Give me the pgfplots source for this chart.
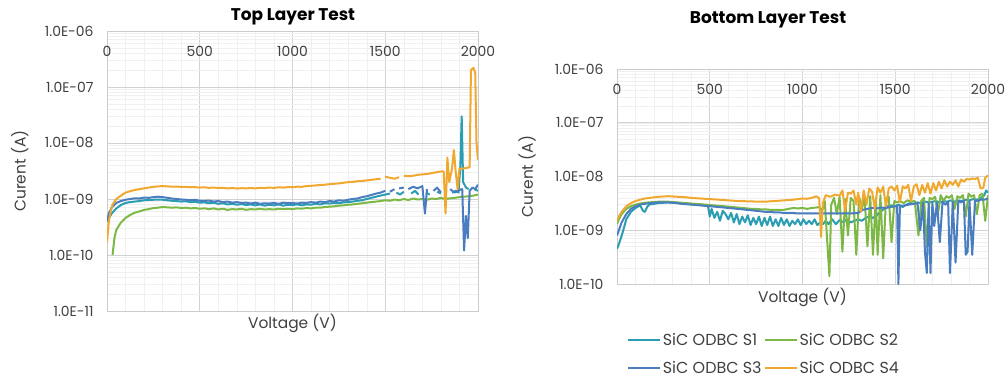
\documentclass[border=0pt]{standalone}
\usepackage{fontspec}
\setmainfont{Poppins}
\usepackage{pgfplots}
\pgfplotsset{compat=1.18}
\definecolor{cS1}{HTML}{2A9DB3}
\definecolor{cS2}{HTML}{7CB845}
\definecolor{cS3}{HTML}{4A7DC0}
\definecolor{cS4}{HTML}{F0A82E}
\pgfplotsset{
  ivstyle/.style={
    scale only axis, xmin=0, xmax=2000,
    xtick={0,500,1000,1500,2000}, xticklabels={0,500,1000,1500,2000},
    minor x tick num=4,
    xticklabel pos=upper,
    xticklabel style={anchor=north, yshift=-11.5bp},
    yticklabel style={xshift=-10bp},
    grid=both, major grid style={gray!35, line width=0.6bp}, minor grid style={gray!12, line width=0.4bp},
    axis line style={gray!40, line width=0.6bp},
    major tick length=0pt, minor tick length=0pt,
    tick label style={font=\fontsize{14}{16}\selectfont, text=black!75},
    label style={font=\fontsize{15.5}{17}\selectfont, text=black!75},
    unbounded coords=jump,
    every axis plot/.append style={line width=2bp, line join=round},
    xlabel={Voltage (V)}, ylabel={Curent (A)},
  }
}
\begin{document}
\begin{tikzpicture}
\path[use as bounding box] (0bp,0bp) rectangle (1008bp,380bp);
\node[font=\fontsize{17}{19}\selectfont\bfseries] at (293bp,363bp) {Top Layer Test};
\node[font=\fontsize{17}{19}\selectfont\bfseries] at (768bp,360bp) {Bottom Layer Test};
\begin{axis}[ymode=log, ivstyle, at={(107bp,69bp)}, anchor=south west, width=371bp, height=280bp,
  ymin=1e-11, ymax=1e-6,
  ytick={1e-11,1e-10,1e-9,1e-8,1e-7,1e-6},
  yticklabels={1.0E-11,1.0E-10,1.0E-09,1.0E-08,1.0E-07,1.0E-06},
  xlabel style={at={(0.5,-0.043)}, anchor=center},
  ylabel style={at={(-0.235,0.5)}, anchor=center},
]
% S1
\addplot[cS1] table[row sep=\\, header=false, x index=0, y expr=\thisrowno{1}*1e-9] {
0 0.4\\ 10 0.45\\ 25 0.55\\ 50 0.68\\ 75 0.78\\ 100 0.85\\ 125 0.88\\ 150 0.9\\ 175 0.92\\ 200 0.95\\ 225 0.96\\ 250 0.97\\ 275 0.98\\ 300 0.97\\ 325 0.95\\ 350 0.93\\ 375 0.92\\ 400 0.9\\ 425 0.91\\ 450 0.88\\ 475 0.89\\ 500 0.86\\ 525 0.87\\ 550 0.84\\ 575 0.86\\ 600 0.82\\ 625 0.84\\ 650 0.8\\ 675 0.82\\ 700 0.79\\ 725 0.81\\ 750 0.78\\ 775 0.8\\ 800 0.77\\ 825 0.8\\ 850 0.76\\ 875 0.79\\ 900 0.77\\ 925 0.8\\ 950 0.76\\ 975 0.79\\ 1000 0.78\\ 1025 0.8\\ 1050 0.77\\ 1075 0.8\\ 1100 0.79\\ 1125 0.82\\ 1150 0.8\\ 1175 0.84\\ 1200 0.83\\ 1225 0.85\\ 1250 0.84\\ 1275 0.87\\ 1300 0.88\\ 1325 0.9\\ 1350 0.93\\ 1375 0.95\\ 1400 1.0\\ 1425 1.05\\ 1450 1.1\\ 1475 1.15\\ 1500 1.2\\ 1525 1.25\\ 1540 nan\\ 1560 1.3\\ 1580 1.2\\ 1600 1.35\\ 1620 nan\\ 1640 1.25\\ 1660 1.4\\ 1680 1.2\\ 1700 nan\\ 1720 1.3\\ 1740 1.2\\ 1760 nan\\ 1780 1.35\\ 1800 1.25\\ 1820 nan\\ 1860 1.3\\ 1880 1.4\\ 1895 1.3\\ 1905 4.0\\ 1912 30\\ 1920 2.0\\ 1935 1.6\\ 1950 1.5\\ 1970 nan\\ 1980 1.5\\ 2000 1.4\\
};
% S2
\addplot[cS2] table[row sep=\\, header=false, x index=0, y expr=\thisrowno{1}*1e-9] {
30 0.1\\ 40 0.2\\ 50 0.28\\ 75 0.38\\ 100 0.46\\ 125 0.52\\ 150 0.57\\ 175 0.6\\ 200 0.64\\ 225 0.66\\ 250 0.69\\ 275 0.7\\ 300 0.72\\ 325 0.71\\ 350 0.7\\ 375 0.71\\ 400 0.69\\ 425 0.7\\ 450 0.68\\ 475 0.69\\ 500 0.67\\ 525 0.68\\ 550 0.66\\ 575 0.68\\ 600 0.65\\ 625 0.67\\ 650 0.64\\ 675 0.66\\ 700 0.65\\ 725 0.67\\ 750 0.64\\ 775 0.66\\ 800 0.65\\ 825 0.67\\ 850 0.65\\ 875 0.66\\ 900 0.65\\ 925 0.67\\ 950 0.66\\ 975 0.67\\ 1000 0.66\\ 1025 0.68\\ 1050 0.67\\ 1075 0.69\\ 1100 0.68\\ 1125 0.7\\ 1150 0.7\\ 1175 0.72\\ 1200 0.73\\ 1225 0.74\\ 1250 0.76\\ 1275 0.77\\ 1300 0.79\\ 1325 0.8\\ 1350 0.82\\ 1375 0.84\\ 1400 0.86\\ 1425 0.88\\ 1450 0.9\\ 1475 0.92\\ 1500 0.95\\ 1525 0.93\\ 1550 0.98\\ 1575 0.95\\ 1600 1.0\\ 1625 0.96\\ 1650 1.02\\ 1675 0.98\\ 1700 1.0\\ 1725 0.97\\ 1750 1.02\\ 1775 1.0\\ 1800 1.05\\ 1825 1.0\\ 1850 1.03\\ 1875 1.05\\ 1900 1.08\\ 1925 1.1\\ 1950 1.12\\ 1975 1.15\\ 2000 1.2\\
};
% S3
\addplot[cS3] table[row sep=\\, header=false, x index=0, y expr=\thisrowno{1}*1e-9] {
0 0.4\\ 10 0.55\\ 25 0.7\\ 50 0.85\\ 75 0.92\\ 100 0.97\\ 125 1.0\\ 150 1.03\\ 175 1.02\\ 200 1.06\\ 225 1.05\\ 250 1.08\\ 275 1.1\\ 300 1.08\\ 325 1.05\\ 350 1.02\\ 375 1.0\\ 400 0.98\\ 425 0.97\\ 450 0.95\\ 475 0.97\\ 500 0.93\\ 525 0.92\\ 550 0.94\\ 575 0.9\\ 600 0.92\\ 625 0.88\\ 650 0.9\\ 675 0.86\\ 700 0.88\\ 725 0.85\\ 750 0.86\\ 775 0.83\\ 800 0.86\\ 825 0.82\\ 850 0.84\\ 875 0.83\\ 900 0.85\\ 925 0.82\\ 950 0.86\\ 975 0.84\\ 1000 0.85\\ 1025 0.83\\ 1050 0.86\\ 1075 0.85\\ 1100 0.88\\ 1125 0.86\\ 1150 0.9\\ 1175 0.88\\ 1200 0.92\\ 1225 0.9\\ 1250 0.95\\ 1275 0.93\\ 1300 0.97\\ 1325 1.0\\ 1350 1.02\\ 1375 1.08\\ 1400 1.12\\ 1425 1.18\\ 1450 1.25\\ 1475 1.3\\ 1500 1.4\\ 1510 nan\\ 1525 1.35\\ 1550 1.5\\ 1560 nan\\ 1575 1.55\\ 1600 1.6\\ 1610 nan\\ 1625 1.5\\ 1650 1.65\\ 1675 1.55\\ 1700 1.7\\ 1714 0.55\\ 1725 1.5\\ 1740 nan\\ 1760 1.4\\ 1780 1.6\\ 1800 1.3\\ 1810 nan\\ 1850 1.5\\ 1875 1.3\\ 1900 1.45\\ 1915 1.5\\ 1925 0.12\\ 1935 0.5\\ 1945 0.2\\ 1955 1.4\\ 1970 1.6\\ 1985 1.5\\ 2000 1.8\\
};
% S4
\addplot[cS4] table[row sep=\\, header=false, x index=0, y expr=\thisrowno{1}*1e-9] {
0 0.17\\ 10 0.4\\ 20 0.6\\ 30 0.8\\ 50 1.0\\ 75 1.15\\ 100 1.3\\ 125 1.38\\ 150 1.45\\ 175 1.5\\ 200 1.55\\ 225 1.6\\ 250 1.65\\ 275 1.68\\ 300 1.7\\ 325 1.68\\ 350 1.66\\ 375 1.67\\ 400 1.64\\ 425 1.65\\ 450 1.62\\ 475 1.63\\ 500 1.6\\ 525 1.62\\ 550 1.58\\ 575 1.6\\ 600 1.57\\ 625 1.58\\ 650 1.55\\ 675 1.57\\ 700 1.54\\ 725 1.56\\ 750 1.55\\ 775 1.57\\ 800 1.55\\ 825 1.58\\ 850 1.57\\ 875 1.6\\ 900 1.58\\ 925 1.62\\ 950 1.6\\ 975 1.63\\ 1000 1.62\\ 1025 1.66\\ 1050 1.65\\ 1075 1.7\\ 1100 1.72\\ 1125 1.75\\ 1150 1.78\\ 1175 1.8\\ 1200 1.84\\ 1225 1.87\\ 1250 1.9\\ 1275 1.95\\ 1300 2.0\\ 1325 2.02\\ 1350 2.08\\ 1375 2.1\\ 1400 2.15\\ 1425 2.2\\ 1450 2.25\\ 1475 2.3\\ 1490 nan\\ 1500 2.5\\ 1525 2.4\\ 1550 2.3\\ 1575 2.45\\ 1590 nan\\ 1600 2.6\\ 1625 2.55\\ 1650 2.6\\ 1675 2.7\\ 1700 2.75\\ 1725 2.8\\ 1750 2.9\\ 1775 3.0\\ 1800 3.1\\ 1815 3.1\\ 1825 0.55\\ 1835 5.5\\ 1845 2.0\\ 1860 3.5\\ 1870 7.5\\ 1880 3.0\\ 1890 1.5\\ 1900 3.5\\ 1920 3.5\\ 1940 3.6\\ 1955 3.7\\ 1962 200\\ 1975 220\\ 1985 180\\ 1992 10\\ 2000 5.0\\
};
\end{axis}
\begin{axis}[ymode=log, ivstyle, at={(617bp,96bp)}, anchor=south west, width=371bp, height=215bp,
  ymin=1e-10, ymax=1e-6,
  ytick={1e-10,1e-9,1e-8,1e-7,1e-6},
  yticklabels={1.0E-10,1.0E-09,1.0E-08,1.0E-07,1.0E-06},
  xlabel style={at={(0.5,-0.06)}, anchor=center},
  ylabel style={at={(-0.2426,0.5)}, anchor=center},
  legend columns=2,
  legend style={at={(0.396,-0.325)}, anchor=center, draw=none, fill=none,
    font=\fontsize{16}{18}\selectfont, text=black!75,
    inner sep=0pt,
    /tikz/every odd column/.append style={column sep=0bp},
    /tikz/every even column/.append style={column sep=0bp},
    row sep=10bp},
  legend cell align=left,
  legend image code/.code={\draw[#1] (0bp,0bp) -- (32bp,0bp);},
]
% S1
\addplot[cS1] table[row sep=\\, header=false, x index=0, y expr=\thisrowno{1}*1e-9] {
0 0.45\\ 10 0.55\\ 20 0.7\\ 30 0.9\\ 40 1.2\\ 50 1.6\\ 75 2.2\\ 100 2.6\\ 125 2.9\\ 140 2.3\\ 150 2.2\\ 165 2.8\\ 175 3.0\\ 200 3.1\\ 225 3.2\\ 250 3.25\\ 275 3.3\\ 300 3.25\\ 325 3.2\\ 350 3.15\\ 375 3.1\\ 400 3.05\\ 425 3.0\\ 450 2.95\\ 475 2.9\\ 490 2.85\\ 500 1.8\\ 510 2.5\\ 525 1.7\\ 540 2.2\\ 555 1.5\\ 570 2.3\\ 585 2.0\\ 600 1.6\\ 615 2.1\\ 630 1.4\\ 645 2.0\\ 660 1.3\\ 675 1.8\\ 690 1.4\\ 705 1.9\\ 720 1.25\\ 735 1.7\\ 750 1.3\\ 765 1.8\\ 780 1.2\\ 795 1.7\\ 810 1.25\\ 825 1.8\\ 840 1.2\\ 855 1.6\\ 870 1.2\\ 885 1.7\\ 900 1.25\\ 915 1.6\\ 930 1.2\\ 945 1.5\\ 960 1.3\\ 975 1.6\\ 990 1.25\\ 1005 1.6\\ 1020 1.3\\ 1035 1.5\\ 1050 1.3\\ 1065 1.6\\ 1080 1.25\\ 1095 1.4\\ 1110 1.3\\ 1125 1.5\\ 1140 1.3\\ 1160 1.6\\ 1180 1.3\\ 1200 1.55\\ 1220 1.4\\ 1240 1.6\\ 1260 1.4\\ 1280 1.5\\ 1300 1.6\\ 1320 1.5\\ 1340 1.7\\ 1360 1.8\\ 1380 1.7\\ 1400 1.9\\ 1420 2.2\\ 1440 2.5\\ 1460 2.8\\ 1480 2.9\\ 1500 2.8\\ 1520 3.0\\ 1540 2.7\\ 1560 3.0\\ 1580 3.2\\ 1600 3.1\\ 1620 3.3\\ 1640 3.2\\ 1660 3.4\\ 1680 3.3\\ 1700 3.4\\ 1720 3.5\\ 1740 3.3\\ 1760 3.5\\ 1780 3.4\\ 1800 3.6\\ 1820 3.4\\ 1840 3.6\\ 1860 3.5\\ 1880 3.7\\ 1900 3.6\\ 1920 3.8\\ 1940 3.7\\ 1960 3.9\\ 1980 4.5\\ 1990 5.5\\ 2000 5.0\\
};
\addlegendentry{SiC ODBC S1}
% S2
\addplot[cS2] table[row sep=\\, header=false, x index=0, y expr=\thisrowno{1}*1e-9] {
0 1.3\\ 10 1.6\\ 25 2.0\\ 50 2.5\\ 75 2.8\\ 100 3.0\\ 125 3.15\\ 150 3.25\\ 175 3.3\\ 200 3.35\\ 225 3.4\\ 250 3.4\\ 275 3.4\\ 300 3.35\\ 325 3.3\\ 350 3.25\\ 375 3.2\\ 400 3.15\\ 425 3.1\\ 450 3.05\\ 475 3.0\\ 500 2.95\\ 525 2.9\\ 550 2.85\\ 575 2.8\\ 600 2.75\\ 625 2.7\\ 650 2.65\\ 675 2.6\\ 700 2.55\\ 725 2.5\\ 750 2.5\\ 775 2.45\\ 800 2.45\\ 825 2.4\\ 850 2.4\\ 875 2.4\\ 900 2.4\\ 925 2.5\\ 950 2.6\\ 975 2.55\\ 1000 2.6\\ 1025 2.5\\ 1050 2.6\\ 1075 2.65\\ 1090 2.7\\ 1105 2.3\\ 1120 3.5\\ 1135 0.5\\ 1145 0.14\\ 1155 3.0\\ 1170 4.0\\ 1185 2.0\\ 1200 4.2\\ 1215 0.4\\ 1230 3.8\\ 1245 0.8\\ 1260 4.0\\ 1275 3.5\\ 1290 0.35\\ 1305 4.2\\ 1320 2.5\\ 1335 4.0\\ 1350 0.5\\ 1365 4.3\\ 1380 0.35\\ 1395 4.0\\ 1405 0.35\\ 1420 4.5\\ 1435 0.3\\ 1450 3.8\\ 1465 4.2\\ 1480 0.6\\ 1495 3.5\\ 1510 3.3\\ 1525 3.5\\ 1545 3.2\\ 1565 3.6\\ 1585 3.4\\ 1605 3.5\\ 1625 0.8\\ 1640 3.5\\ 1655 4.0\\ 1670 0.5\\ 1685 4.0\\ 1700 3.8\\ 1715 4.2\\ 1730 2.0\\ 1745 4.5\\ 1760 3.5\\ 1775 4.3\\ 1790 4.0\\ 1805 4.5\\ 1820 2.5\\ 1835 4.3\\ 1850 4.0\\ 1865 4.5\\ 1880 1.8\\ 1895 4.8\\ 1910 4.2\\ 1925 4.5\\ 1940 2.0\\ 1955 4.5\\ 1970 4.8\\ 1985 1.5\\ 2000 4.5\\
};
\addlegendentry{SiC ODBC S2}
% S3
\addplot[cS3] table[row sep=\\, header=false, x index=0, y expr=\thisrowno{1}*1e-9] {
0 0.8\\ 10 1.0\\ 25 1.4\\ 50 2.0\\ 75 2.5\\ 100 2.8\\ 125 3.0\\ 150 3.1\\ 175 3.2\\ 200 3.25\\ 225 3.3\\ 250 3.3\\ 275 3.3\\ 300 3.25\\ 325 3.2\\ 350 3.1\\ 375 3.05\\ 400 3.0\\ 425 2.95\\ 450 2.9\\ 475 2.85\\ 500 2.8\\ 525 2.75\\ 550 2.7\\ 575 2.65\\ 600 2.6\\ 625 2.55\\ 650 2.5\\ 675 2.45\\ 700 2.4\\ 725 2.35\\ 750 2.3\\ 775 2.25\\ 800 2.2\\ 825 2.2\\ 850 2.15\\ 875 2.15\\ 900 2.1\\ 925 2.1\\ 950 2.1\\ 975 2.05\\ 1000 2.05\\ 1050 2.05\\ 1100 2.05\\ 1150 2.05\\ 1200 2.05\\ 1250 2.05\\ 1300 2.1\\ 1325 2.4\\ 1350 2.5\\ 1375 2.6\\ 1400 2.55\\ 1425 2.65\\ 1450 2.6\\ 1475 2.7\\ 1500 2.8\\ 1510 2.9\\ 1517 0.1\\ 1525 2.8\\ 1550 2.9\\ 1575 3.0\\ 1600 3.1\\ 1620 3.2\\ 1635 1.0\\ 1650 3.3\\ 1660 0.4\\ 1670 0.16\\ 1680 3.2\\ 1690 0.16\\ 1700 3.3\\ 1710 1.2\\ 1725 3.3\\ 1740 0.6\\ 1755 3.4\\ 1770 3.0\\ 1785 3.4\\ 1795 0.16\\ 1810 3.4\\ 1825 0.25\\ 1840 3.5\\ 1855 3.3\\ 1870 3.6\\ 1880 0.35\\ 1890 0.4\\ 1900 3.5\\ 1915 0.35\\ 1930 3.6\\ 1945 3.5\\ 1960 3.7\\ 1980 3.7\\ 2000 3.9\\
};
\addlegendentry{SiC ODBC S3}
% S4
\addplot[cS4] table[row sep=\\, header=false, x index=0, y expr=\thisrowno{1}*1e-9] {
0 1.5\\ 10 1.8\\ 25 2.2\\ 50 2.8\\ 75 3.2\\ 100 3.5\\ 125 3.7\\ 150 3.9\\ 175 4.0\\ 200 4.1\\ 225 4.2\\ 250 4.25\\ 275 4.3\\ 300 4.25\\ 325 4.2\\ 350 4.15\\ 375 4.1\\ 400 4.0\\ 425 3.95\\ 450 3.9\\ 475 3.85\\ 500 3.8\\ 525 3.75\\ 550 3.7\\ 575 3.65\\ 600 3.6\\ 625 3.55\\ 650 3.5\\ 675 3.5\\ 700 3.45\\ 725 3.45\\ 750 3.4\\ 775 3.4\\ 800 3.4\\ 825 3.45\\ 850 3.5\\ 875 3.55\\ 900 3.6\\ 925 3.65\\ 950 3.7\\ 975 3.8\\ 1000 3.9\\ 1025 3.85\\ 1050 4.0\\ 1075 4.3\\ 1090 3.9\\ 1100 0.75\\ 1110 3.2\\ 1125 4.5\\ 1150 4.2\\ 1175 4.6\\ 1200 4.4\\ 1215 5.5\\ 1230 2.3\\ 1245 5.0\\ 1260 4.8\\ 1275 5.5\\ 1290 3.0\\ 1300 5.0\\ 1315 2.2\\ 1330 5.5\\ 1345 3.0\\ 1360 6.0\\ 1375 5.2\\ 1390 2.5\\ 1405 6.3\\ 1420 5.0\\ 1435 6.5\\ 1450 2.8\\ 1465 6.0\\ 1480 6.5\\ 1495 5.5\\ 1510 6.8\\ 1525 3.3\\ 1540 6.5\\ 1555 6.0\\ 1570 7.0\\ 1585 3.5\\ 1600 6.5\\ 1615 7.2\\ 1630 4.5\\ 1645 7.0\\ 1660 5.0\\ 1675 7.5\\ 1690 4.8\\ 1705 7.5\\ 1720 5.5\\ 1735 8.0\\ 1750 6.0\\ 1765 8.5\\ 1780 6.5\\ 1795 8.0\\ 1810 7.0\\ 1825 8.5\\ 1840 6.5\\ 1855 8.8\\ 1870 8.0\\ 1885 9.0\\ 1900 8.8\\ 1915 9.2\\ 1930 9.0\\ 1945 9.5\\ 1960 6.0\\ 1975 6.2\\ 1985 9.5\\ 2000 10.5\\
};
\addlegendentry{SiC ODBC S4}
\end{axis}
\end{tikzpicture}
\end{document}
